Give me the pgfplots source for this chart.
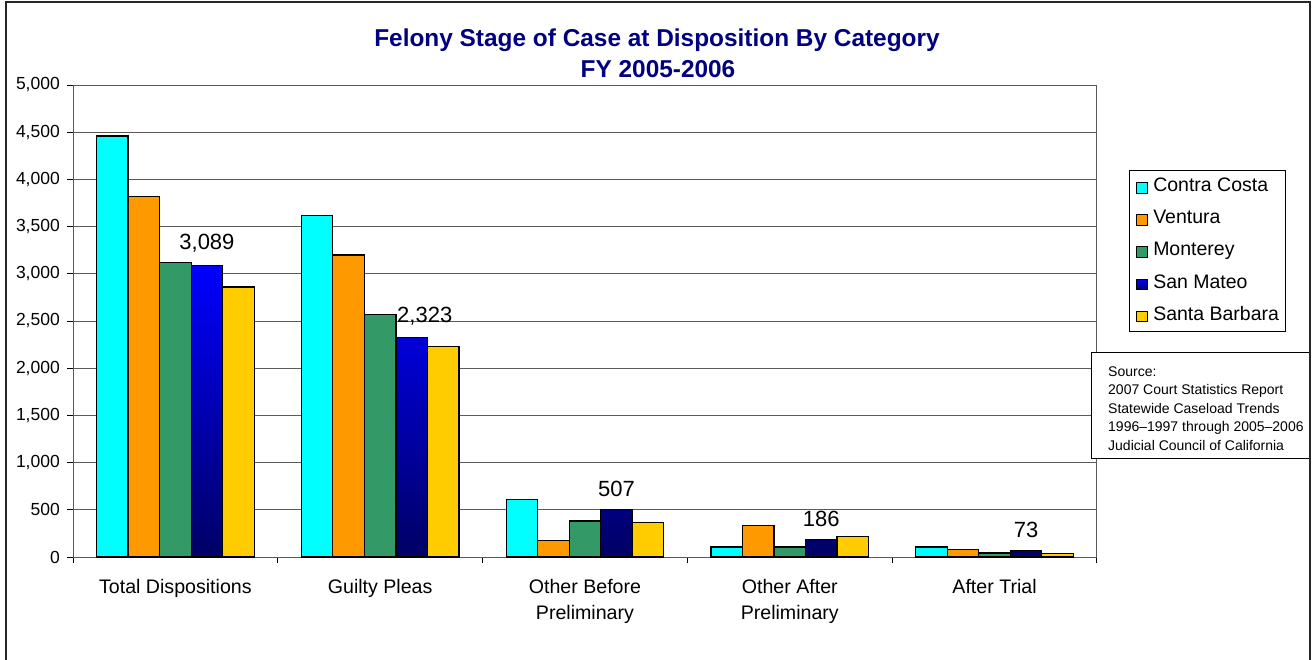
\documentclass[border=0pt]{standalone}
\usepackage{pgfplots}
\pgfplotsset{compat=1.18}
\usepackage{pgfplotstable}
\usepackage{fontspec}
\setmainfont{Liberation Sans}
\definecolor{cc}{RGB}{0,255,255}
\definecolor{ve}{RGB}{255,153,0}
\definecolor{mo}{RGB}{51,153,102}
\definecolor{smtop}{RGB}{0,0,255}
\definecolor{smmid}{RGB}{0,0,195}
\definecolor{smbot}{RGB}{0,0,100}
\definecolor{sb}{RGB}{255,204,0}
\definecolor{navytitle}{RGB}{0,0,128}
\definecolor{gridc}{RGB}{90,90,90}

\pgfplotstableread{
x cc ve mo sm sb dx
0 4460 3820 3120 3089 2860 0
1 3620 3200 2570 2323 2230 13
2 611 173 381 507 367 0
3 106 332 106 186 219 0
4 106 77 42 73 39 0
}\data

\begin{document}
\begin{tikzpicture}
\useasboundingbox (0,0) rectangle (1314pt,659pt);
\fill[white] (0,0) rectangle (1314pt,659pt);
\begin{axis}[
  at={(73pt,102pt)}, anchor=south west,
  scale only axis, width=1024pt, height=472pt,
  xmin=-0.5, xmax=4.5, ymin=0, ymax=5000,
  ybar, bar width=0.154,
  xtick={0,1,2,3,4},
  xticklabels={Total Dispositions, Guilty Pleas, {Other Before\\Preliminary}, {Other After\\Preliminary}, After Trial},
  minor xtick={-0.5,0.5,1.5,2.5,3.5,4.5},
  ytick={0,500,...,5000},
  scaled y ticks=false,
  ymajorgrids, grid style={gridc, line width=1pt},
  axis line style={gridc, line width=1pt},
  tick align=outside, xtick pos=left, ytick pos=left,
  major tick length=6pt, minor tick length=6pt,
  major x tick style={draw=none},
  minor x tick style={black, line width=1pt},
  major y tick style={black, line width=1pt},
  tick label style={font=\fontsize{17.5}{21}\selectfont},
  yticklabel style={inner sep=0pt, xshift=-7pt},
  xticklabel style={font=\fontsize{19.6}{26}\selectfont, align=center, inner sep=0pt, yshift=-16pt},
  legend style={at={(1.03125,0.8199)}, anchor=north west, draw=black, line width=1pt,
    font=\fontsize{19.5}{23}\selectfont, inner xsep=6.5pt, inner ysep=7pt, row sep=13.7pt,
    nodes={inner sep=0pt, text height=14pt, text depth=4.5pt},
    /tikz/every odd column/.append style={column sep=5.7pt}},
  legend cell align=left,
  legend image code/.code={\draw[#1, line width=1pt] (0pt,-6.3pt) rectangle (10.6pt,4.3pt);},
  /pgf/number format/1000 sep={,},
  /pgf/number format/assume math mode=true,
]
\addplot[draw=black, line width=1.2pt, fill=cc, bar shift=-0.308] table[x=x,y=cc]{\data};
\addlegendentry{Contra Costa}
\addplot[draw=black, line width=1.2pt, fill=ve, bar shift=-0.154] table[x=x,y=ve]{\data};
\addlegendentry{Ventura}
\addplot[draw=black, line width=1.2pt, fill=mo, bar shift=0] table[x=x,y=mo]{\data};
\addlegendentry{Monterey}
\addplot[draw=black, line width=1.2pt, top color=smtop, middle color=smmid, bottom color=smbot, bar shift=0.154] table[x=x,y=sm]{\data};
\addlegendentry{San Mateo}
\addplot[draw=black, line width=1.2pt, fill=sb, bar shift=0.308] table[x=x,y=sb]{\data};
\addlegendentry{Santa Barbara}
\addplot[draw=none, fill=none, bar shift=0.154, forget plot,
  nodes near coords,
  visualization depends on={\thisrow{dx} \as \dx},
  every node near coord/.append style={font=\fontsize{22}{26}\selectfont, text=black, inner sep=0pt, anchor=south, yshift=12.5pt, xshift=\dx pt}]
  table[x=x,y=sm]{\data};
\end{axis}
\node[anchor=base, font=\fontsize{24.4}{28}\selectfont\bfseries, text=navytitle] at (657pt,612.3pt) {Felony Stage of Case at Disposition By Category};
\node[anchor=base, font=\fontsize{24.4}{28}\selectfont\bfseries, text=navytitle] at (658pt,581pt) {FY 2005-2006};
\draw[black, line width=1pt, fill=white] (1091pt,306pt) rectangle (1310pt,200pt);
\node[anchor=north west, align=left, inner sep=0pt, font=\fontsize{14}{18.5}\selectfont] at (1108pt,292.5pt)
  {Source:\\2007 Court Statistics Report\\Statewide Caseload Trends\\1996--1997 through 2005--2006\\Judicial Council of California};
\draw[black!85, line width=1.5pt] (6pt,-10pt) -- (6pt,657pt) -- (1310pt,657pt) -- (1310pt,-10pt);
\end{tikzpicture}
\end{document}
